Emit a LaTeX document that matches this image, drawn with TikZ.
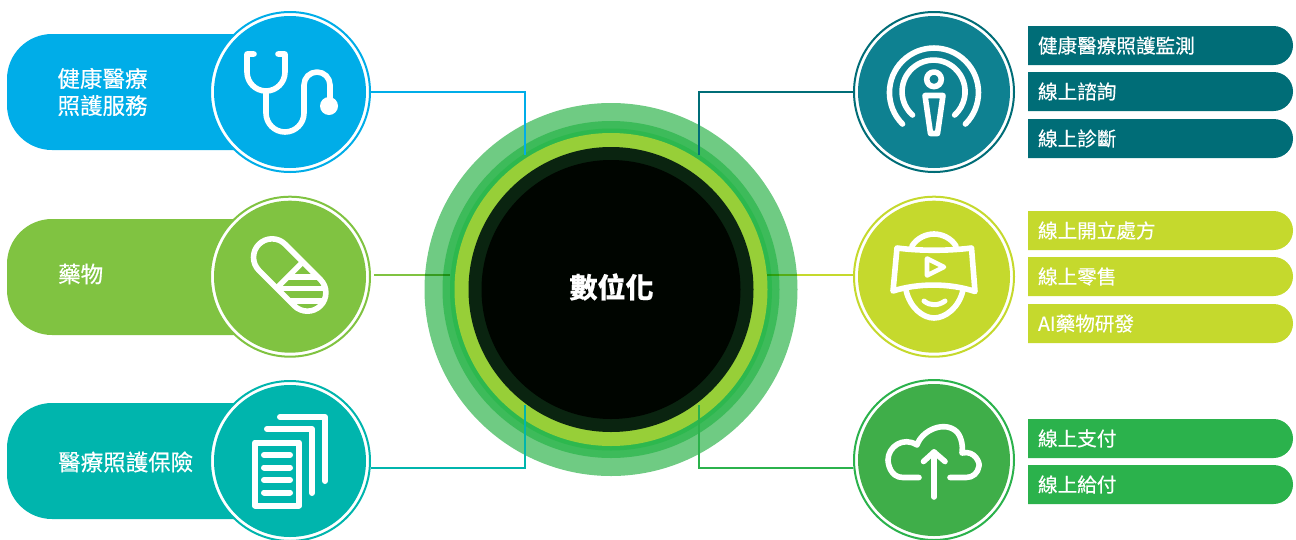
\documentclass[tikz,border=0pt]{standalone}
\usepackage{fontspec}
\setmainfont{Noto Sans CJK TC}[FakeBold=0.35]
\usetikzlibrary{shapes.misc}

\begin{document}
\begin{tikzpicture}[x=1pt, y=1pt, yscale=-1]

\definecolor{CareFill}{RGB}{0,173,232}
\definecolor{DrugFill}{RGB}{128,195,65}
\definecolor{InsureFill}{RGB}{0,181,173}
\definecolor{RemoteFill}{RGB}{14,129,145}
\definecolor{RemoteTag}{RGB}{0,109,119}
\definecolor{RetailFill}{RGB}{197,217,45}
\definecolor{PayFill}{RGB}{63,174,73}
\definecolor{PayTag}{RGB}{43,178,76}
\definecolor{RingOuter}{RGB}{111,203,131}
\definecolor{RingMid}{RGB}{61,187,90}
\definecolor{RingInner}{RGB}{45,184,78}
\definecolor{RingLime}{RGB}{151,207,56}
\definecolor{RingDark}{RGB}{10,36,16}
\definecolor{CoreFill}{RGB}{0,5,0}

\tikzset{
    ring/.style={circle, inner sep=0pt, minimum size=#1},
    pill/.style={minimum width=283pt, minimum height=116pt, inner sep=0pt,
        rounded corners=45pt, fill=#1},
    iconring/.style={circle, inner sep=0pt, minimum size=160pt, fill=white,
        draw=#1, line width=2pt},
    icondisc/.style={circle, inner sep=0pt, minimum size=152pt, fill=#1},
    tagbox/.style={rounded rectangle, rounded rectangle left arc=none,
        inner sep=0pt, minimum width=265pt, minimum height=39pt, fill=#1},
    pilltext/.style={text=white, anchor=west, align=left, inner sep=0pt,
        font=\fontsize{22.5}{27}\selectfont},
    tagtext/.style={text=white, anchor=west, inner sep=0pt,
        font=\fontsize{19.6}{24}\selectfont},
    glyph/.style={draw=white, line width=5.6pt, line cap=round, line join=round},
    link/.style={line width=2.2pt},
    softlink/.style={line width=2.6pt, blend mode=multiply}
}

\useasboundingbox (0,0) rectangle (1296,539);

% ── Central rings ───────────────────────────────────────────
\node[ring=373pt, fill=RingOuter] (ringouter) at (611,289.5) {};
\node[ring=337pt, fill=RingMid]   (ringmid)   at (611,289.5) {};
\node[ring=322pt, fill=RingInner] (ringinner) at (611,289.5) {};
\node[ring=313pt, fill=RingLime]  (ringlime)  at (611,289.5) {};
\node[ring=285pt, fill=RingDark]  (ringdark)  at (611,289.5) {};
\node[ring=259pt, fill=CoreFill]  (core)      at (611,289.5) {};
\node[text=white, font=\fontsize{28}{32}\selectfont\bfseries] (coretext) at (611.5,287) {數位化};

% ── Free ends of the connectors on the rings ────────────────
\coordinate (careend)   at (525,155);
\coordinate (insureend) at (525,405);
\coordinate (remoteend) at (699,155);
\coordinate (payend)    at (699,405);
\coordinate (drugend)   at (450,275);
\coordinate (retailend) at (767,275);

% ── Left pills ──────────────────────────────────────────────
\node[pill=CareFill]   (carepill)   at (148.5,92)  {};
\node[pill=DrugFill]   (drugpill)   at (148.5,277) {};
\node[pill=InsureFill] (insurepill) at (148.5,461) {};

\node[pilltext] (caretext)   at ([xshift=50.5pt]carepill.west)   {健康醫療\\照護服務};
\node[pilltext] (drugtext)   at (58,274) {藥物};
\node[pilltext] (insuretext) at (58,462) {醫療照護保險};

% ── Icon circles ────────────────────────────────────────────
\node[iconring=CareFill]   (care)   at (290,92)    {};
\node[iconring=DrugFill]   (drug)   at (290,276.7) {};
\node[iconring=InsureFill] (insure) at (290,461)   {};
\node[iconring=RemoteTag]  (remote) at (934,92)    {};
\node[iconring=RetailFill] (retail) at (934,276.7) {};
\node[iconring=PayTag]     (pay)    at (934,460)   {};

\node[icondisc=CareFill]   (caredisc)   at (care)   {};
\node[icondisc=DrugFill]   (drugdisc)   at (drug)   {};
\node[icondisc=InsureFill] (insuredisc) at (insure) {};
\node[icondisc=RemoteFill] (remotedisc) at (remote) {};
\node[icondisc=RetailFill] (retaildisc) at (retail) {};
\node[icondisc=PayFill]    (paydisc)    at (pay)    {};

% ── Connectors ──────────────────────────────────────────────
\coordinate (drugstart)   at (374,275);
\coordinate (retailstart) at (853,275);
\coordinate (insurestart) at (371,468);
\coordinate (paystart)    at (853,468);

\draw[link, CareFill]       (care.east)   -| (careend);
\draw[softlink, DrugFill]   (drugstart)   -- (drugend);
\draw[link, InsureFill]     (insurestart) -| (insureend);
\draw[link, RemoteTag]      (remote.west) -| (remoteend);
\draw[softlink, RetailFill] (retailstart) -- (retailend);
\draw[link, PayTag]         (paystart)    -| (payend);

% ── Stethoscope ─────────────────────────────────────────────
\draw[glyph] (254,54) -- (247,54) -- (247,72) arc (180:0:19) -- (285,54) -- (278,54);
\draw[glyph] (266,91) -- (266,113) arc (180:0:19) -- (304,85)
    arc (180:360:13) -- (330,100);
\fill[white] (329,106) circle (9);

% ── Capsule ─────────────────────────────────────────────────
\begin{scope}[shift={(289.7,275)}, rotate=45]
    \begin{scope}
        \clip (0,-18.5) -- (25,-18.5) arc (-90:90:18.5) -- (0,18.5) -- cycle;
        \begin{scope}[rotate=-45]
            \draw[white, line width=5.6pt] (-50,1.7)  -- (50,1.7);
            \draw[white, line width=5.6pt] (-50,13.5) -- (50,13.5);
            \draw[white, line width=5.6pt] (-50,26)   -- (50,26);
        \end{scope}
    \end{scope}
    \draw[glyph] (-25,-18.5) -- (25,-18.5) arc (-90:90:18.5) -- (-25,18.5)
        arc (90:270:18.5) -- cycle;
    \draw[glyph, line cap=butt] (0,-18.5) -- (0,18.5);
\end{scope}

% ── Stacked sheets ──────────────────────────────────────────
\draw[glyph, line width=6pt] (255,442.5) rectangle (299,505.5);
\draw[glyph, line width=6pt] (264,455) -- (290,455);
\draw[glyph, line width=6pt] (264,467.5) -- (290,467.5);
\draw[glyph, line width=6pt] (264,480) -- (290,480);
\draw[glyph, line width=6pt] (264,492.5) -- (290,492.5);
\draw[glyph, line width=6pt] (267,429) -- (312,429) -- (312,493);
\draw[glyph, line width=6pt] (280,417) -- (325,417) -- (325,481);

% ── Broadcast figure ────────────────────────────────────────
\draw[glyph] (934,79.3) circle (7.3);
\draw[glyph] (925,95.5) -- (943,95.5) -- (937.5,133.5) -- (930.5,133.5) -- cycle;
\draw[glyph] (912.5,115) arc (132:408:31.5);
\draw[glyph] (902.5,124) arc (135:405:44.5);

% ── Headset ─────────────────────────────────────────────────
\draw[glyph] (912,246) .. controls (917,238) and (926,234) .. (934,234)
    .. controls (942,234) and (951,238) .. (956,246);
\draw[glyph] (897,248) .. controls (920,251) and (948,251) .. (971.5,248)
    -- (975,291.5) .. controls (950,283) and (918,283) .. (893,291) -- cycle;
\draw[glyph] (906,290) .. controls (910,308) and (923,318) .. (934,318)
    .. controls (945,318) and (959,308) .. (963,290);
\draw[glyph, line width=5pt] (924,301) .. controls (930,306) and (938,306) .. (945,301);
\draw[glyph, line width=4.6pt] (927,258.5) -- (944,267) -- (927,275.5) -- cycle;

% ── Upload cloud ────────────────────────────────────────────
\draw[glyph] (919,477.5) -- (903,477.5) .. controls (890,477.5) and (888,463) .. (888,460)
    .. controls (888,447) and (903,436) .. (917,445)
    .. controls (922,430) and (945,420) .. (957,432)
    .. controls (962,438) and (963,447) .. (962,453)
    .. controls (975,450) and (980,463) .. (979,466)
    .. controls (978,473) and (973,477.5) .. (966,477.5) -- (950,477.5);
\draw[glyph] (934,497) -- (934,452);
\draw[glyph] (923.5,461.5) -- (934,452) -- (945,461.5);

% ── Right tags ──────────────────────────────────────────────
\node[tagbox=RemoteTag]  (monitor)  at (1160.5,45.5)  {};
\node[tagbox=RemoteTag]  (consult)  at (1160.5,91.5)  {};
\node[tagbox=RemoteTag]  (diagnose) at (1160.5,138.5) {};
\node[tagbox=RetailFill] (prescribe) at (1160.5,230.5) {};
\node[tagbox=RetailFill] (sale)      at (1160.5,276.5) {};
\node[tagbox=RetailFill] (research)  at (1160.5,323.5) {};
\node[tagbox=PayTag]     (paying)   at (1160.5,438.5) {};
\node[tagbox=PayTag]     (benefit)  at (1160.5,484.5) {};

\node[tagtext] (monitortext)   at ([xshift=10pt]monitor.west)   {健康醫療照護監測};
\node[tagtext] (consulttext)   at ([xshift=10pt]consult.west)   {線上諮詢};
\node[tagtext] (diagnosetext)  at ([xshift=10pt]diagnose.west)  {線上診斷};
\node[tagtext] (prescribetext) at ([xshift=10pt]prescribe.west) {線上開立處方};
\node[tagtext] (saletext)      at ([xshift=10pt]sale.west)      {線上零售};
\node[tagtext] (researchtext)  at ([xshift=10pt]research.west)  {AI藥物研發};
\node[tagtext] (payingtext)    at ([xshift=10pt]paying.west)    {線上支付};
\node[tagtext] (benefittext)   at ([xshift=10pt]benefit.west)   {線上給付};

\end{tikzpicture}
\end{document}
